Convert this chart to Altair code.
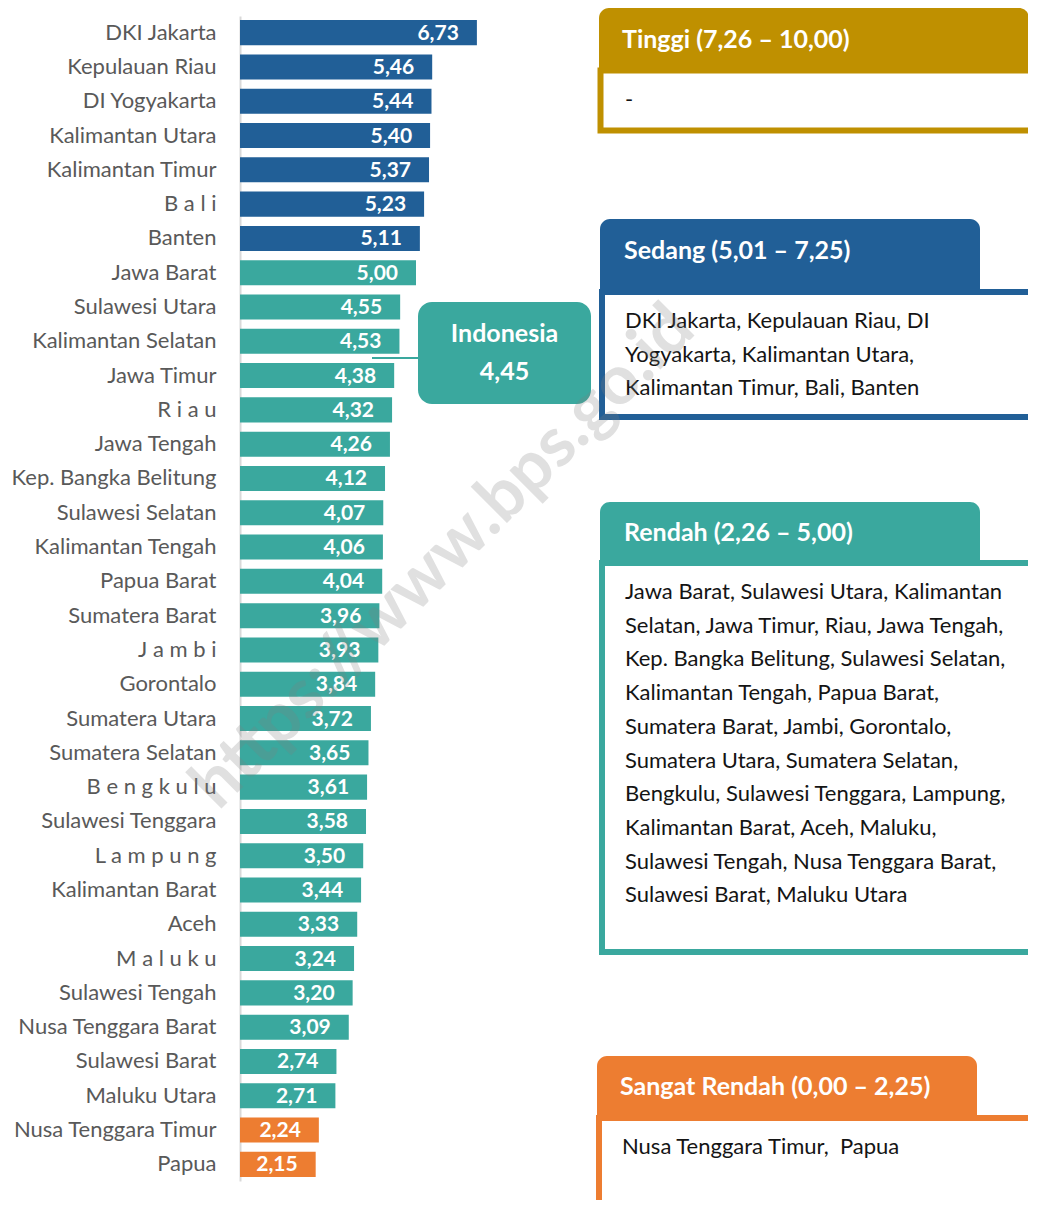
import altair as alt
import pandas as pd

# ---------------- data ----------------
provinces = [
    "DKI Jakarta", "Kepulauan Riau", "DI Yogyakarta", "Kalimantan Utara",
    "Kalimantan Timur", "B a l i", "Banten", "Jawa Barat", "Sulawesi Utara",
    "Kalimantan Selatan", "Jawa Timur", "R i a u", "Jawa Tengah",
    "Kep. Bangka Belitung", "Sulawesi Selatan", "Kalimantan Tengah",
    "Papua Barat", "Sumatera Barat", "J a m b i", "Gorontalo",
    "Sumatera Utara", "Sumatera Selatan", "B e n g k u l u",
    "Sulawesi Tenggara", "L a m p u n g", "Kalimantan Barat", "Aceh",
    "M a l u k u", "Sulawesi Tengah", "Nusa Tenggara Barat",
    "Sulawesi Barat", "Maluku Utara", "Nusa Tenggara Timur", "Papua",
]
values = [
    6.73, 5.46, 5.44, 5.40, 5.37, 5.23, 5.11, 5.00, 4.55, 4.53, 4.38, 4.32,
    4.26, 4.12, 4.07, 4.06, 4.04, 3.96, 3.93, 3.84, 3.72, 3.65, 3.61, 3.58,
    3.50, 3.44, 3.33, 3.24, 3.20, 3.09, 2.74, 2.71, 2.24, 2.15,
]

cat_names = ["Tinggi", "Sedang", "Rendah", "Sangat Rendah"]
cat_ranges = ["7,26 – 10,00", "5,01 – 7,25", "2,26 – 5,00", "0,00 – 2,25"]
cat_lower = [7.255, 5.005, 2.255, 0.0]
cat_colors = ["#BF9000", "#215F97", "#3AA89E", "#ED7D31"]

panel_lines = [
    ["-"],
    ["DKI Jakarta, Kepulauan Riau, DI",
     "Yogyakarta, Kalimantan Utara,",
     "Kalimantan Timur, Bali, Banten"],
    ["Jawa Barat, Sulawesi Utara, Kalimantan",
     "Selatan, Jawa Timur, Riau, Jawa Tengah,",
     "Kep. Bangka Belitung, Sulawesi Selatan,",
     "Kalimantan Tengah, Papua Barat,",
     "Sumatera Barat, Jambi, Gorontalo,",
     "Sumatera Utara, Sumatera Selatan,",
     "Bengkulu, Sulawesi Tenggara, Lampung,",
     "Kalimantan Barat, Aceh, Maluku,",
     "Sulawesi Tengah, Nusa Tenggara Barat,",
     "Sulawesi Barat, Maluku Utara"],
    ["Nusa Tenggara Timur,\u00a0 Papua"],
]

national_label = "Indonesia"
national_value = "4,45"
watermark = "https://www.bps.go.id"

# ---------------- layout (page pixels) ----------------
FONT = "Lato"
ORIGIN_X, ORIGIN_Y = 240, 16          # plot origin on the page
PLOT_W, PLOT_H = 788, 1165
PX_PER_UNIT = 35.2
PAD = {"left": ORIGIN_X - 8, "top": ORIGIN_Y - 8, "right": 0, "bottom": 19}

# header box, body box (outer), title pos, first text line pos, line gap
panel_layout = [
    dict(h=(599, 8, 1029, 72), b=(598, 68, 1100, 133), t=(622, 40), l=(625, 100), g=33.6, sw=5),
    dict(h=(600, 219, 980, 294), b=(599, 289, 1100, 420), t=(624, 251), l=(625, 321), g=33.5, sw=6),
    dict(h=(600, 502, 980, 565), b=(599, 560, 1100, 955), t=(624, 533), l=(625, 592), g=33.7, sw=6),
    dict(h=(597, 1056, 977, 1120), b=(596, 1115, 1100, 1260), t=(620, 1087), l=(622, 1147), g=33.6, sw=6),
]
callout_box = (418, 302, 591, 404)
callout_line = (372, 358, 418)
callout_text_y = (334, 372)
watermark_pos = (458, 572)   # baseline centre

# ---------------- tables ----------------
def category(v):
    for name, lo in zip(cat_names, cat_lower):
        if v >= lo:
            return name
    return cat_names[-1]

bars_df = pd.DataFrame({
    "prov": provinces,
    "value": values,
    "cat": [category(v) for v in values],
    "label": [f"{v:.2f}".replace(".", ",") for v in values],
})

def px(x):
    return x - ORIGIN_X

def py(y):
    return y - ORIGIN_Y

hdr_rows, body_rows, title_rows, text_rows = [], [], [], []
for name, rng, col, lay, lines in zip(cat_names, cat_ranges, cat_colors, panel_layout, panel_lines):
    x1, y1, x2, y2 = lay["h"]
    hdr_rows.append(dict(x=px(x1), x2=px(x2), y=py(y1), y2=py(y2), c=col))
    bx1, by1, bx2, by2 = lay["b"]
    s = lay["sw"] / 2
    body_rows.append(dict(x=px(bx1 + s), x2=px(bx2), y=py(by1 + s), y2=py(by2 - s), c=col))
    title_rows.append(dict(x=px(lay["t"][0]), y=py(lay["t"][1]), text=f"{name} ({rng})"))
    for i, ln in enumerate(lines):
        text_rows.append(dict(x=px(lay["l"][0]), y=py(lay["l"][1] + i * lay["g"]), text=ln))

hdr_df = pd.DataFrame(hdr_rows)
body_df = pd.DataFrame(body_rows)
title_df = pd.DataFrame(title_rows)
text_df = pd.DataFrame(text_rows)

cx1, cy1, cx2, cy2 = callout_box
call_df = pd.DataFrame([dict(x=px(cx1), x2=px(cx2), y=py(cy1), y2=py(cy2))])
line_df = pd.DataFrame([dict(x=px(callout_line[0]), x2=px(callout_line[2]), y=py(callout_line[1]))])
call_text_df = pd.DataFrame([
    dict(x=px((cx1 + cx2) / 2), y=py(callout_text_y[0]), text=national_label),
    dict(x=px((cx1 + cx2) / 2), y=py(callout_text_y[1]), text=national_value),
])
wm_df = pd.DataFrame([dict(x=px(watermark_pos[0]), y=py(watermark_pos[1]), text=watermark)])

# ---------------- bar chart ----------------
xs = alt.Scale(domain=[0, PLOT_W / PX_PER_UNIT], nice=False, zero=True)
ys = alt.Scale(paddingInner=0.27, paddingOuter=0.12)
color_scale = alt.Scale(domain=cat_names, range=cat_colors)

base = alt.Chart(bars_df)
bars = base.mark_bar().encode(
    y=alt.Y("prov:N", sort=provinces, scale=ys, title=None,
            axis=alt.Axis(ticks=False, domain=True, domainColor="#D9D9D9", domainWidth=2,
                          labelFont=FONT, labelFontSize=22, labelColor="#595959",
                          labelPadding=24, labelLimit=400, grid=False)),
    x=alt.X("value:Q", scale=xs, axis=None),
    color=alt.Color("cat:N", scale=color_scale, legend=None),
)
labels = base.mark_text(align="right", baseline="middle", dx=-18, dy=1, font=FONT,
                        fontSize=21, fontWeight="bold", color="white").encode(
    y=alt.Y("prov:N", sort=provinces, scale=ys, title=None),
    x=alt.X("value:Q", scale=xs, axis=None),
    text="label:N",
)
bar_layer = alt.layer(bars, labels)

# ---------------- pixel-positioned annotations ----------------
XP = alt.Scale(domain=[0, PLOT_W], range=[0, PLOT_W])
YP = alt.Scale(domain=[0, PLOT_H], range=[0, PLOT_H])

def X(f="x"):
    return alt.X(f"{f}:Q", scale=XP, axis=None)

def Y(f="y"):
    return alt.Y(f"{f}:Q", scale=YP, axis=None)

body_layer = alt.Chart(body_df).mark_rect(fill="white", strokeWidth=6).encode(
    x=X(), x2="x2:Q", y=Y(), y2="y2:Q",
    stroke=alt.Stroke("c:N", scale=None),
)
hdr_layer = alt.Chart(hdr_df).mark_rect(cornerRadiusTopLeft=10, cornerRadiusTopRight=10).encode(
    x=X(), x2="x2:Q", y=Y(), y2="y2:Q",
    fill=alt.Fill("c:N", scale=None),
)
title_layer = alt.Chart(title_df).mark_text(align="left", baseline="middle", font=FONT,
                                            fontSize=25, fontWeight="bold", color="white").encode(
    x=X(), y=Y(), text="text:N")
text_layer = alt.Chart(text_df).mark_text(align="left", baseline="middle", font=FONT,
                                          fontSize=22, color="#141414").encode(
    x=X(), y=Y(), text="text:N")

line_layer = alt.Chart(line_df).mark_rule(color=cat_colors[2], strokeWidth=2).encode(
    x=X(), x2="x2:Q", y=Y())
call_layer = alt.Chart(call_df).mark_rect(cornerRadius=14, fill=cat_colors[2]).encode(
    x=X(), x2="x2:Q", y=Y(), y2="y2:Q")
call_text_layer = alt.Chart(call_text_df).mark_text(align="center", baseline="middle", font=FONT,
                                                    fontSize=25, fontWeight="bold", color="white").encode(
    x=X(), y=Y(), text="text:N")

wm_layer = alt.Chart(wm_df).mark_text(align="center", baseline="alphabetic", font=FONT,
                                      fontSize=69, fontWeight="bold", angle=315,
                                      color="#7F7F7F", opacity=0.24).encode(
    x=X(), y=Y(), text="text:N")

chart = alt.layer(
    bar_layer, body_layer, hdr_layer, title_layer, text_layer,
    line_layer, call_layer, call_text_layer, wm_layer,
).resolve_scale(x="independent", y="independent").properties(
    width=PLOT_W, height=PLOT_H,
    autosize=alt.AutoSizeParams(type="none"),
    padding=PAD,
    background="white",
).configure_view(stroke=None)

chart.save("out.html", embed_options={"renderer": "svg", "actions": False})
